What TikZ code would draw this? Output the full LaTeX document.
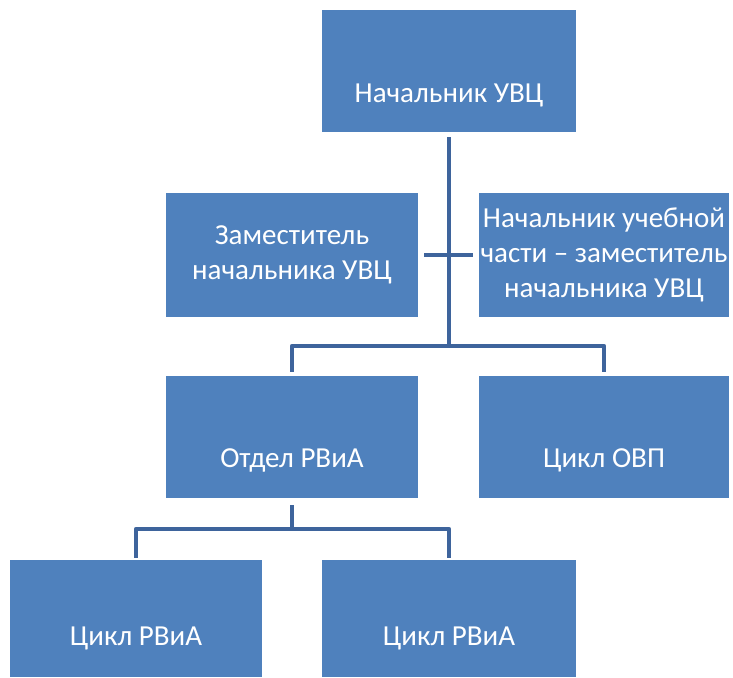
\documentclass[tikz,border=0pt]{standalone}
\usepackage{fontspec}
\setmainfont{Carlito}
\definecolor{boxblue}{HTML}{4F81BD}
\definecolor{lineblue}{HTML}{3E649C}

\begin{document}
\begin{tikzpicture}[x=1pt, y=1pt,
  box/.style={fill=boxblue, draw=none, inner sep=0, minimum height=122pt},
  lbl/.style={text=white, align=center, font=\fontsize{29}{35}\selectfont},
  conn/.style={draw=lineblue, line width=4.5pt, line join=round}]

\useasboundingbox (0,0) rectangle (733,677);

% boxes
\node[box, minimum width=254pt] (boss) at (449,606) {};
\node[box, minimum width=252pt, minimum height=124pt] (deputy) at (292,422) {};
\node[box, minimum width=250pt, minimum height=124pt] (study) at (604,422) {};
\node[box, minimum width=252pt] (dept) at (292,240) {};
\node[box, minimum width=250pt] (ovp) at (604,240) {};
\node[box, minimum width=252pt, minimum height=117pt] (cyc1) at (136,58.5) {};
\node[box, minimum width=254pt, minimum height=117pt] (cyc2) at (449,58.5) {};

% texts
\node[lbl] (bossT) at ([yshift=-24]boss.center) {Начальник УВЦ};
\node[lbl] (deputyT) at (deputy.center) {Заместитель\\начальника УВЦ};
\node[lbl] (studyT) at (study.center) {Начальник учебной\\части – заместитель\\начальника УВЦ};
\node[lbl] (deptT) at ([yshift=-23]dept.center) {Отдел РВиА};
\node[lbl] (ovpT) at ([yshift=-23]ovp.center) {Цикл ОВП};
\node[lbl] (cyc1T) at ([yshift=-20]cyc1.center) {Цикл РВиА};
\node[lbl] (cyc2T) at ([yshift=-20]cyc2.center) {Цикл РВиА};

% connectors
\coordinate (hub) at (449,331);
\coordinate (sub) at (292,148);

\draw[conn] ([yshift=-5]boss.south) -- (hub);
\draw[conn] ([xshift=6]deputy.east) -- ([xshift=-6]study.west);
\draw[conn] (hub) -| ([yshift=4]dept.north);
\draw[conn] (hub) -| ([yshift=4]ovp.north);
\draw[conn] ([yshift=-7]dept.south) -- (sub);
\draw[conn] (sub) -| ([yshift=2]cyc1.north);
\draw[conn] (sub) -| ([yshift=2]cyc2.north);

\end{tikzpicture}
\end{document}
